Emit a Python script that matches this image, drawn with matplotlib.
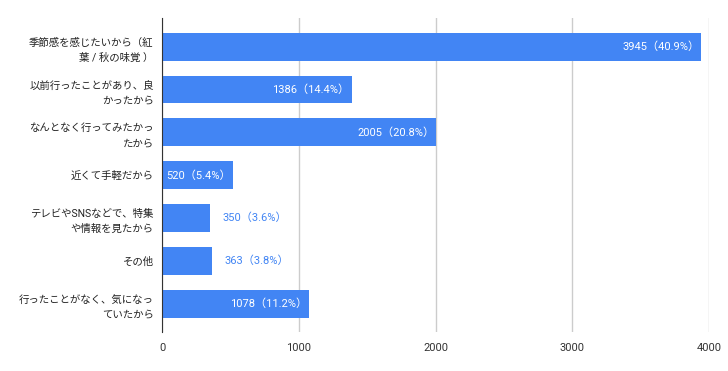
import matplotlib
matplotlib.use('Agg')
import matplotlib.pyplot as plt

plt.rcParams['font.family'] = ['Roboto', 'Noto Sans CJK JP', 'DejaVu Sans']

categories = [
    '季節感を感じたいから（紅\n葉 / 秋の味覚 ）',
    '以前行ったことがあり、良\nかったから',
    'なんとなく行ってみたかっ\nたから',
    '近くて手軽だから',
    'テレビやSNSなどで、特集\nや情報を見たから',
    'その他',
    '行ったことがなく、気になっ\nていたから',
]
counts = [3945, 1386, 2005, 520, 350, 363, 1078]
percents = [40.9, 14.4, 20.8, 5.4, 3.6, 3.8, 11.2]
xticks = [0, 1000, 2000, 3000, 4000]

blue = '#4285F4'

fig = plt.figure(figsize=(7.28, 3.71), dpi=100)
ax = fig.add_axes([162 / 728, 39 / 371, 547 / 728, 314 / 371])

ypos = list(range(len(categories)))
ax.barh(ypos, counts, height=0.65, color=blue, zorder=3)

for y, c, p in zip(ypos, counts, percents):
    label = f'{c}（{p}%）'
    if c > 500:
        ax.text(c - 15, y, label, ha='right', va='center', color='white',
                fontsize=8, zorder=4)
    else:
        ax.text(c + 95, y, label, ha='left', va='center', color=blue,
                fontsize=8, zorder=4)

ax.set_xlim(0, 4000)
ax.set_ylim(6.66, -0.67)
ax.set_xticks(xticks)
ax.set_xticklabels([str(t) for t in xticks], fontsize=8, color='#333333')
ax.set_yticks(ypos)
ax.set_yticklabels(categories, fontsize=7.5, color='#222222', linespacing=1.6)
ax.tick_params(axis='y', length=0, pad=6)
ax.tick_params(axis='x', length=0, pad=8)

ax.grid(axis='x', color='#cccccc', linewidth=1, zorder=0)
for s in ['top', 'right', 'bottom']:
    ax.spines[s].set_visible(False)
ax.spines['left'].set_color('#333333')
ax.spines['left'].set_zorder(5)

fig.savefig('out.png', dpi=100)
